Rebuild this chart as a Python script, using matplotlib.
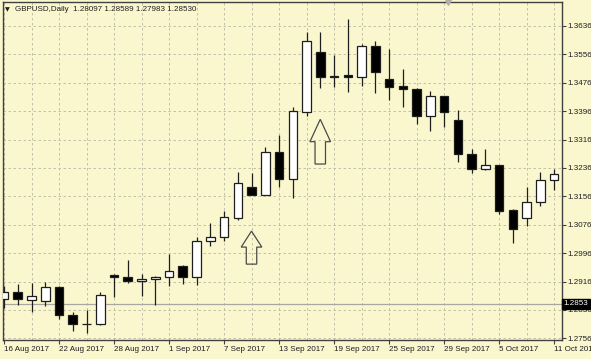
import numpy as np
import matplotlib.pyplot as plt
from matplotlib.patches import Polygon
from matplotlib import transforms

# Daily GBPUSD candles (index 0 = 16 Aug 2017)
opens = [1.2866, 1.2887, 1.2865, 1.2862, 1.2900, 1.2822, 1.2797, 1.2796, 1.2935, 1.2930,
         1.2918, 1.2922, 1.2928, 1.2961, 1.2930, 1.3029, 1.3041, 1.3096, 1.3181, 1.3160,
         1.3282, 1.3206, 1.3393, 1.3563, 1.3495, 1.3498, 1.3492, 1.3581, 1.3488, 1.3467,
         1.3458, 1.3382, 1.3440, 1.3371, 1.3274, 1.3232, 1.3245, 1.3118, 1.3094, 1.3139,
         1.3201]
highs = [1.2902, 1.2909, 1.2913, 1.2916, 1.2903, 1.2831, 1.2836, 1.2886, 1.2937, 1.2977,
         1.2936, 1.2932, 1.2993, 1.2963, 1.3042, 1.3082, 1.3116, 1.3225, 1.3223, 1.3296,
         1.3329, 1.3407, 1.3618, 1.3618, 1.3554, 1.3656, 1.3585, 1.3595, 1.3571, 1.3514,
         1.3460, 1.3454, 1.3440, 1.3399, 1.3289, 1.3289, 1.3245, 1.3120, 1.3181, 1.3224,
         1.3233]
lows = [1.2840, 1.2850, 1.2829, 1.2847, 1.2809, 1.2777, 1.2772, 1.2793, 1.2871, 1.2913,
        1.2875, 1.2850, 1.2902, 1.2910, 1.2906, 1.3016, 1.3031, 1.3089, 1.3160, 1.3160,
        1.3181, 1.3151, 1.3381, 1.3462, 1.3463, 1.3451, 1.3467, 1.3448, 1.3428, 1.3407,
        1.3360, 1.3341, 1.3350, 1.3254, 1.3221, 1.3230, 1.3106, 1.3024, 1.3073, 1.3129,
        1.3174]
closes = [1.2887, 1.2866, 1.2875, 1.2900, 1.2822, 1.2796, 1.2797, 1.2877, 1.2930, 1.2918,
          1.2923, 1.2930, 1.2947, 1.2930, 1.3029, 1.3042, 1.3097, 1.3193, 1.3160, 1.3282,
          1.3206, 1.3396, 1.3593, 1.3492, 1.3491, 1.3491, 1.3581, 1.3507, 1.3465, 1.3458,
          1.3382, 1.3440, 1.3395, 1.3274, 1.3232, 1.3245, 1.3116, 1.3063, 1.3139, 1.3201,
          1.3219]

date_ticks = [0, 4, 8, 12, 16, 20, 24, 28, 32, 36, 40]
date_labels = ["16 Aug 2017", "22 Aug 2017", "28 Aug 2017", "1 Sep 2017", "7 Sep 2017",
               "13 Sep 2017", "19 Sep 2017", "25 Sep 2017", "29 Sep 2017", "5 Oct 2017",
               "11 Oct 2017"]
price_ticks = [1.2756, 1.2836, 1.2916, 1.2996, 1.3076, 1.3156, 1.3236, 1.3316,
               1.3396, 1.3476, 1.3556, 1.3636]

# up arrows drawn on the chart
arrow_idx = [18, 23]
arrow_tip = [1.3058, 1.3373]
arrow_neck = [1.3013, 1.3310]
arrow_base = [1.2965, 1.3247]

current_price = 1.2853
header = "GBPUSD,Daily  1.28097 1.28589 1.27983 1.28530"

bg = '#faf7cf'
ink = '#1e1e1e'
fs = 5.8
plt.rcParams['font.family'] = ['Liberation Sans', 'DejaVu Sans']

fig = plt.figure(figsize=(5.91, 3.59), dpi=100, facecolor=bg)
ax = fig.add_axes([3 / 591, 19 / 359, 559 / 591, 338 / 359], facecolor=bg)

x = np.arange(len(opens))
o = np.array(opens)
c = np.array(closes)
up = c >= o

# wicks
ax.vlines(x, lows, highs, color=ink, linewidth=0.9, zorder=3)
# bodies
bottoms = np.minimum(o, c)
heights = np.abs(c - o)
ax.bar(x, heights, bottom=bottoms, width=0.62,
       color=np.where(up, 'white', 'black'), edgecolor=ink, linewidth=0.9, zorder=4)

# arrows
for i, t, n, b in zip(arrow_idx, arrow_tip, arrow_neck, arrow_base):
    hw, sw = 0.75, 0.38
    pts = [(i, t), (i + hw, n), (i + sw, n), (i + sw, b), (i - sw, b), (i - sw, n), (i - hw, n)]
    ax.add_patch(Polygon(pts, closed=True, fill=False, edgecolor='#4a4a4a', linewidth=0.9, zorder=5))

# current price line
ax.axhline(current_price, color='#a8a8a0', linewidth=0.9, zorder=2)

ax.set_xlim(-0.073, 40.58)
ax.set_ylim(1.27512, 1.37036)

ax.yaxis.tick_right()
ax.set_yticks(price_ticks)
ax.set_yticklabels([f"{p:.4f}" for p in price_ticks])
ax.set_xticks(date_ticks)
ax.set_xticklabels(date_labels, ha='left')
ax.set_xticks(np.arange(2, 41, 4), minor=True)
ax.tick_params(axis='both', which='major', length=3, width=0.8, color='#404040',
               labelsize=fs, labelcolor=ink)
ax.tick_params(axis='y', pad=0.8)
ax.tick_params(axis='x', pad=1.5)
ax.tick_params(axis='x', which='minor', length=0)
ax.grid(which='both', color='#b9b8a2', linestyle=(0, (3, 3)), linewidth=0.6, zorder=1)
ax.set_axisbelow(True)
for s in ax.spines.values():
    s.set_color('#404040')
    s.set_linewidth(1.0)

# price label box on the right axis
trans = transforms.blended_transform_factory(ax.transAxes, ax.transData)
ax.text(1.003, current_price, "1.2853", transform=trans, ha='left', va='center',
        fontsize=fs, color='white', clip_on=False, zorder=10,
        bbox=dict(boxstyle='square,pad=0.15', facecolor='black', edgecolor='black'))

# header line
ax.text(0.004, 0.977, "\u25bc", transform=ax.transAxes, fontsize=4.5, color=ink,
        ha='left', va='center', family='DejaVu Sans')
ax.text(0.022, 0.977, header, transform=ax.transAxes, fontsize=fs, color=ink,
        ha='left', va='center')

# chart shift marker at the top edge
ax.plot([0.796], [1.0], transform=ax.transAxes, marker='v', markersize=5,
        color='#b0b0a8', clip_on=False, zorder=10)

fig.savefig('out.png', dpi=100, facecolor=bg)
